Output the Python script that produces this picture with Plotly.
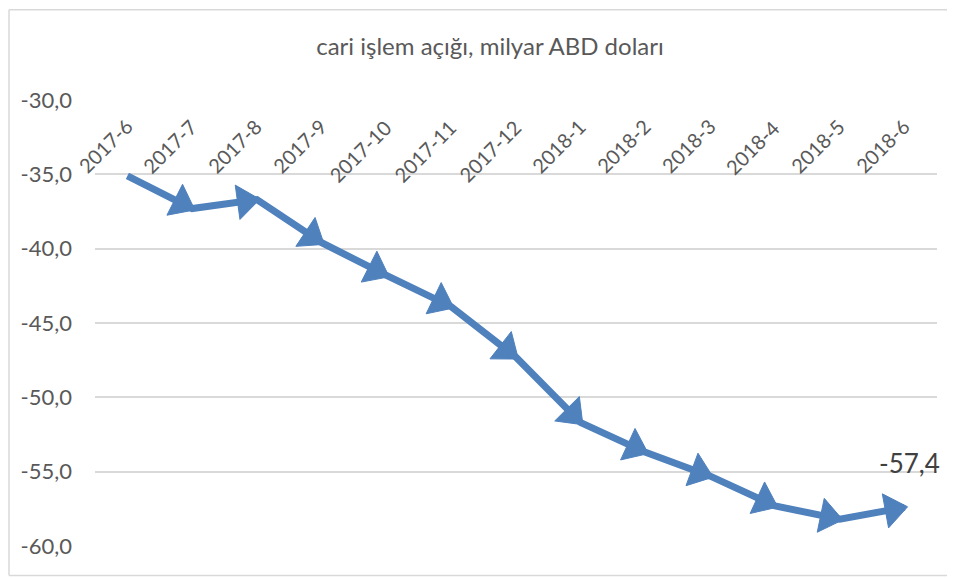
import plotly.graph_objects as go

categories = ["2017-6", "2017-7", "2017-8", "2017-9", "2017-10", "2017-11", "2017-12",
              "2018-1", "2018-2", "2018-3", "2018-4", "2018-5", "2018-6"]
values = [-35.1, -37.3, -36.7, -39.6, -41.8, -43.9, -47.3, -51.7, -53.7, -55.3, -57.3, -58.2, -57.4]
y_ticks = [-60, -55, -50, -45, -40, -35, -30]
y_tick_labels = ["-60,0", "-55,0", "-50,0", "-45,0", "-40,0", "-35,0", "-30,0"]
title_text = "cari işlem açığı, milyar ABD doları"
last_label = "-57,4"

BLUE = "rgb(79,129,189)"
GRAY = "#595959"
FONT = "Lato"

# the page body adds an 8px offset; figure coordinates below are page - 8
W, H = 947, 570
L, R, T, B = 87, 18, 91.5, 31.5
pw, ph = W - L - R, H - T - B

def px_x(p):
    return (p - L) / pw

def px_y(p):
    return 1 - (p - T) / ph

fig = go.Figure()
fig.add_trace(go.Scatter(
    x=categories, y=values, mode="lines+markers",
    line=dict(color=BLUE, width=7, backoff=0),
    marker=dict(symbol="triangle-up", angleref="previous", size=30, standoff=12,
                color=BLUE, line=dict(color=BLUE, width=1)),
    hoverinfo="skip", showlegend=False, cliponaxis=False,
))

# category labels, rotated, hanging below the top edge of the plot
for c in categories:
    fig.add_annotation(x=c, y=y_ticks[-1], xref="x", yref="y", text=c, showarrow=False,
                       textangle=-45, xanchor="right", yanchor="top",
                       xshift=12, yshift=-12,
                       font=dict(family=FONT, size=20, color=GRAY))

fig.add_annotation(x=categories[-1], y=values[-1], text=last_label, showarrow=False,
                   xanchor="center", yanchor="bottom", xshift=5, yshift=26,
                   font=dict(family=FONT, size=26, color="#404040"))

fig.update_layout(
    width=W, height=H,
    margin=dict(l=L, r=R, t=T, b=B, pad=0, autoexpand=False),
    paper_bgcolor="white", plot_bgcolor="white",
    title=dict(text=title_text, x=px_x(482), xref="paper", xanchor="center",
               y=1 - 39 / H, yref="container", yanchor="middle",
               font=dict(family=FONT, size=24, color=GRAY)),
    xaxis=dict(type="category", showticklabels=False, showgrid=False, showline=False,
               ticks="", automargin=False, range=[-0.5, len(categories) - 0.5]),
    yaxis=dict(range=[-60, -30], tickvals=y_ticks, ticktext=y_tick_labels,
               showgrid=True, gridcolor="#D9D9D9", gridwidth=1.5, zeroline=False,
               showline=False, ticks="", ticklabelstandoff=22, automargin=False,
               tickfont=dict(family=FONT, size=22, color=GRAY)),
)

border = dict(color="#D9D9D9", width=1.5)
fig.add_shape(type="line", xref="paper", yref="paper", x0=px_x(1), x1=px_x(1),
              y0=px_y(1), y1=px_y(568), line=border)
fig.add_shape(type="line", xref="paper", yref="paper", x0=px_x(1), x1=px_x(W + 5),
              y0=px_y(1), y1=px_y(1), line=border)
fig.add_shape(type="line", xref="paper", yref="paper", x0=px_x(1), x1=px_x(W + 5),
              y0=px_y(568), y1=px_y(568), line=border)

fig.write_html("out.html")
